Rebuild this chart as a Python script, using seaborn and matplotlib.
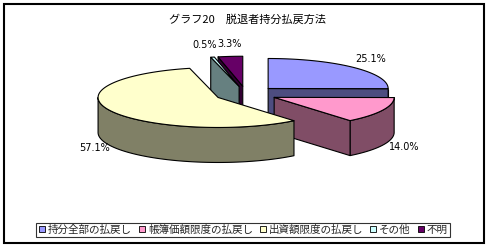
import numpy as np
import matplotlib
matplotlib.use("Agg")
import matplotlib.pyplot as plt
from matplotlib.patches import Polygon, Rectangle
from matplotlib.lines import Line2D
import seaborn as sns

# ---- data ----
categories = ["持分全部の払戻し", "帳簿価額限度の払戻し", "出資額限度の払戻し", "その他", "不明"]
shares = [25.1, 14.0, 57.1, 0.5, 3.3]
labels = ["25.1%", "14.0%", "57.1%", "0.5%", "3.3%"]
title = "グラフ20　脱退者持分払戻方法"

top_colors = ["#9999FF", "#FF99CC", "#FFFFCC", "#CCFFFF", "#660066"]
side_colors = ["#4D4D80", "#804D66", "#808066", "#668080", "#330033"]

sns.set_theme(style="white")
plt.rcParams["font.family"] = ["Noto Sans CJK JP", "DejaVu Sans"]

W, H = 490, 248
fig = plt.figure(figsize=(W / 100, H / 100), dpi=100)
fig.patch.set_facecolor("white")
ax = fig.add_axes([0, 0, 1, 1])
ax.set_xlim(0, W)
ax.set_ylim(H, 0)
ax.axis("off")

cx, cy = 246, 94
rx, ry = 120, 30
depth = 35
explode = 0.26


def pt(vx, vy, t, dz=0.0):
    r = np.radians(t)
    return (vx + rx * np.cos(r), vy - ry * np.sin(r) + dz)


total = sum(shares)
cum = np.concatenate([[0], np.cumsum(shares)]) / total * 360
slices = []
for i in range(len(shares)):
    hi = 90 - cum[i]
    lo = 90 - cum[i + 1]
    mid = (lo + hi) / 2
    m = np.radians(mid)
    vx = cx + explode * rx * np.cos(m)
    vy = cy - explode * ry * np.sin(m)
    slices.append((i, lo, hi, mid, vx, vy))

order = sorted(slices, key=lambda s: -np.sin(np.radians(s[3])))
ekw = dict(edgecolor="black", linewidth=0.8, joinstyle="round")
for i, lo, hi, mid, vx, vy in order:
    for k in range(-2, 2):
        a = max(lo, -180 + 360 * k)
        b = min(hi, 0 + 360 * k)
        if b > a:
            ts = np.linspace(a, b, 120)
            top = [pt(vx, vy, t) for t in ts]
            bot = [pt(vx, vy, t, depth) for t in ts[::-1]]
            ax.add_patch(Polygon(top + bot, closed=True, facecolor=side_colors[i], **ekw))
    walls = ((lo, np.cos(np.radians(lo)) > 1e-6), (hi, np.cos(np.radians(hi)) < -1e-6))
    for a, vis in walls:
        if vis:
            p = pt(vx, vy, a)
            poly = [(vx, vy), p, (p[0], p[1] + depth), (vx, vy + depth)]
            ax.add_patch(Polygon(poly, closed=True, facecolor=side_colors[i], **ekw))
    ts = np.linspace(lo, hi, 200)
    ax.add_patch(Polygon([(vx, vy)] + [pt(vx, vy, t) for t in ts], closed=True,
                         facecolor=top_colors[i], **ekw))

label_dx = [0, 0, 5, -3, 2]
for i, lo, hi, mid, vx, vy in slices:
    m = np.radians(mid)
    lx = vx + 1.2 * rx * np.cos(m) + label_dx[i]
    ly = vy - 1.4 * ry * np.sin(m) + (32 if np.sin(m) < 0 else 0)
    ax.text(lx, ly, labels[i], ha="center", va="center", fontsize=7,
            family=["Liberation Sans Narrow", "DejaVu Sans"], color="black")

ax.text(247, 20, title, ha="center", va="center", fontsize=8, color="black")

handles = [Line2D([], [], marker="s", ls="", markersize=5, markerfacecolor=c,
                  markeredgecolor="black", markeredgewidth=0.6) for c in top_colors]
leg = fig.legend(handles, categories, loc="center", bbox_to_anchor=(243 / W, 1 - 230 / H),
                 ncol=5, fontsize=7.6, frameon=True, fancybox=False, handlelength=0.7,
                 handletextpad=0.2, columnspacing=0.6, borderpad=0.2, borderaxespad=0)
leg.get_frame().set_edgecolor("black")
leg.get_frame().set_linewidth(0.8)

ax.add_patch(Rectangle((4, 4), 480, 239, fill=False, edgecolor="black", linewidth=1.5))

fig.savefig("out.png", dpi=100, facecolor="white")
